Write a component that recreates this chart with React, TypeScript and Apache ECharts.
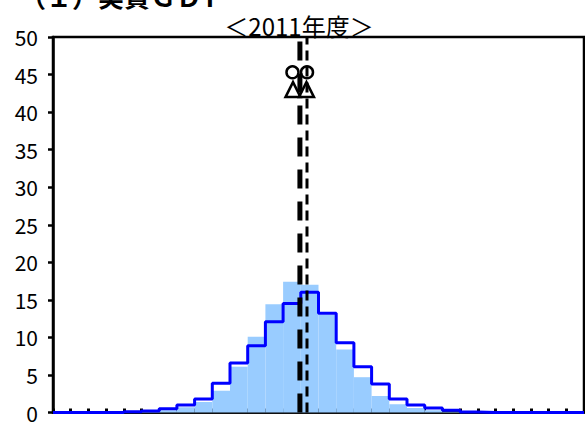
import React, { useEffect, useRef } from "react";
import * as echarts from "echarts";

// Histogram bins 0..29 (share, %)
const histBars: number[] = [
  0, 0, 0, 0, 0, 0.1, 0.3, 0.7, 1.4, 2.9,
  6.1, 10.1, 14.4, 17.4, 17.0, 13.0, 8.4, 4.7, 2.2, 1.1,
  0.6, 0.3, 0.1, 0, 0, 0, 0, 0, 0, 0,
];
const stepLine: number[] = [
  0, 0, 0, 0, 0.1, 0.2, 0.5, 1.0, 1.8, 3.9,
  6.6, 8.9, 12.1, 14.5, 16.0, 13.2, 9.3, 6.1, 3.8, 1.8,
  1.0, 0.6, 0.3, 0.05, 0, 0, 0, 0, 0, 0,
];
const thickDashX = 13.95;
const thinDashX = 14.35;
const circlePoints: number[][] = [
  [13.53, 45.3],
  [14.35, 45.3],
];
const trianglePoints: number[][] = [
  [13.56, 43.0],
  [14.32, 43.0],
];
const yTicks = { min: 0, max: 50, interval: 5 };
const binCount = 30;
const titleText = "（１）実質ＧＤＰ";
const subTitleText = "＜2011年度＞";

export default function App() {
  const ref = useRef<HTMLDivElement>(null);
  useEffect(() => {
    if (!ref.current) return;
    const chart = echarts.init(ref.current, null, { renderer: "svg" });
    const stepData = stepLine.map((v, i) => [i, v]);
    stepData.push([binCount, stepLine[stepLine.length - 1]]);
    chart.setOption({
      animation: false,
      backgroundColor: "#fff",
      grid: {
        left: 53,
        right: 1,
        top: 37,
        bottom: 3,
        show: true,
        borderColor: "#000",
        borderWidth: 2.5,
      },
      graphic: [
        {
          type: "text",
          x: 20,
          y: -5,
          style: {
            text: titleText,
            font: "bold 26px 'Noto Sans CJK JP', sans-serif",
            fill: "#000",
            textVerticalAlign: "middle",
          },
        },
        {
          type: "text",
          x: 299,
          y: 25,
          style: {
            text: subTitleText,
            font: "24px 'Noto Sans CJK JP', sans-serif",
            fill: "#000",
            textAlign: "center",
            textVerticalAlign: "middle",
          },
        },
      ],
      xAxis: {
        type: "value",
        min: 0,
        max: binCount,
        interval: 1,
        axisLabel: { show: false },
        axisLine: { lineStyle: { color: "#000", width: 2.5 } },
        axisTick: { inside: true, length: 4, lineStyle: { color: "#000", width: 3 } },
        splitLine: { show: false },
      },
      yAxis: {
        type: "value",
        min: yTicks.min,
        max: yTicks.max,
        interval: yTicks.interval,
        axisLine: { show: true, lineStyle: { color: "#000", width: 2.5 } },
        axisTick: { show: true, inside: false, length: 5, lineStyle: { color: "#000", width: 2.5 } },
        axisLabel: {
          color: "#000",
          fontSize: 21,
          margin: 15,
          fontFamily: "'Noto Sans CJK JP', sans-serif",
        },
        splitLine: { show: false },
      },
      series: [
        {
          type: "custom",
          z: 1,
          data: histBars.map((v, i) => [i, v]),
          renderItem: (params: any, api: any) => {
            const i = api.value(0);
            const v = api.value(1);
            const p0 = api.coord([i, v]);
            const p1 = api.coord([i + 1, 0]);
            return {
              type: "rect",
              shape: { x: p0[0], y: p0[1], width: p1[0] - p0[0], height: p1[1] - p0[1] },
              style: { fill: "#99CCFF" },
            };
          },
        },
        {
          type: "line",
          z: 3,
          step: "end",
          data: stepData,
          symbol: "none",
          lineStyle: { color: "#0000FF", width: 3 },
        },
        {
          type: "line",
          z: 4,
          data: [
            [thickDashX, yTicks.min],
            [thickDashX, yTicks.max],
          ],
          symbol: "none",
          lineStyle: { color: "#000", width: 5, type: [19, 13] },
        },
        {
          type: "line",
          z: 4,
          data: [
            [thinDashX, yTicks.min],
            [thinDashX, yTicks.max],
          ],
          symbol: "none",
          lineStyle: { color: "#000", width: 3, type: [10, 6] },
        },
        {
          type: "scatter",
          z: 5,
          data: circlePoints,
          symbol: "circle",
          symbolSize: 12,
          itemStyle: { color: "rgba(255,255,255,0)", borderColor: "#000", borderWidth: 2.5, opacity: 1 },
        },
        {
          type: "scatter",
          z: 5,
          data: trianglePoints,
          symbol: "triangle",
          symbolSize: [15, 15],
          itemStyle: { color: "rgba(255,255,255,0)", borderColor: "#000", borderWidth: 2.5, opacity: 1 },
        },
      ],
    });
    return () => chart.dispose();
  }, []);
  return (
    <div
      ref={ref}
      style={{ position: "fixed", left: 0, top: 0, width: 585, height: 423, background: "#fff" }}
    />
  );
}
